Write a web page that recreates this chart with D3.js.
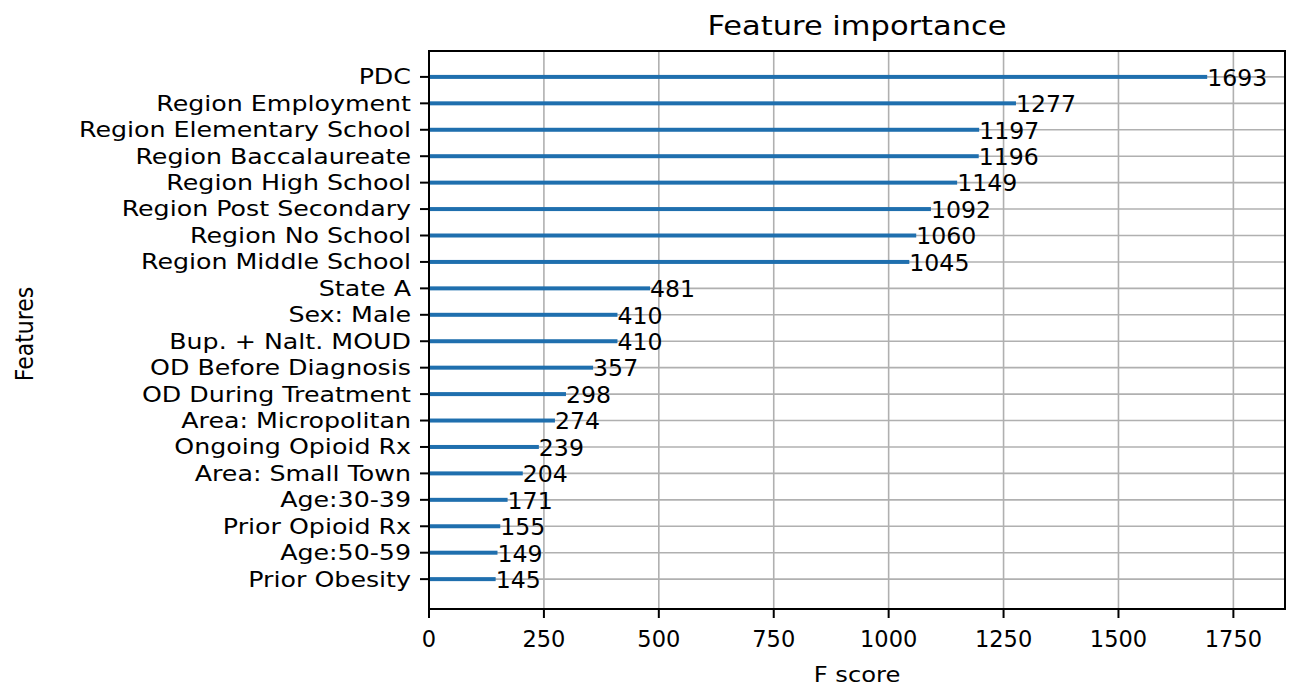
<!DOCTYPE html>
<html>
<head>
<meta charset="utf-8">
<script src="https://cdn.jsdelivr.net/npm/d3@7"></script>
<style>
  body { margin: 0; background: #fff; }
  text { font-family: "DejaVu Sans", sans-serif; fill: #000; }
</style>
</head>
<body>
<svg id="chart" width="1295" height="690"></svg>
<script>
// feature names, top to bottom
var features = ["PDC", "Region Employment", "Region Elementary School", "Region Baccalaureate",
  "Region High School", "Region Post Secondary", "Region No School", "Region Middle School",
  "State A", "Sex: Male", "Bup. + Nalt. MOUD", "OD Before Diagnosis", "OD During Treatment",
  "Area: Micropolitan", "Ongoing Opioid Rx", "Area: Small Town", "Age:30-39",
  "Prior Opioid Rx", "Age:50-59", "Prior Obesity"];
var scores = [1693, 1277, 1197, 1196, 1149, 1092, 1060, 1045, 481, 410, 410, 357, 298,
  274, 239, 204, 171, 155, 149, 145];
var xTicks = [0, 250, 500, 750, 1000, 1250, 1500, 1750];

// plot box (window.top is reserved, so use other names)
var pLeft = 429, pRight = 1285, pTop = 51, pBottom = 609;
var svg = d3.select("#chart");

var n = features.length;
// matplotlib style: bottom feature at position 0
var x = d3.scaleLinear().domain([0, d3.max(scores) * 1.1]).range([pLeft, pRight]);
var y = d3.scaleLinear().domain([-1.13, n - 0.02]).range([pBottom, pTop]);
function pos(i) { return y(n - 1 - i); }

// put a text at (px,py), widened a little (reference font is wider than DejaVu)
function at(px, py, s) { return "translate(" + px + "," + py + ") scale(" + s + ",1)"; }

// grid
svg.append("g").selectAll("line").data(xTicks).enter().append("line")
  .attr("x1", d => x(d)).attr("x2", d => x(d))
  .attr("y1", pTop).attr("y2", pBottom)
  .attr("stroke", "#b0b0b0").attr("stroke-width", 1.6);
svg.append("g").selectAll("line").data(features).enter().append("line")
  .attr("x1", pLeft).attr("x2", pRight)
  .attr("y1", (d, i) => pos(i)).attr("y2", (d, i) => pos(i))
  .attr("stroke", "#b0b0b0").attr("stroke-width", 1.6);

// bars
svg.append("g").selectAll("rect").data(scores).enter().append("rect")
  .attr("x", x(0))
  .attr("y", (d, i) => pos(i) - 2)
  .attr("width", d => x(d) - x(0))
  .attr("height", 4)
  .attr("fill", "#1f6fae");

// value labels
svg.append("g").selectAll("text").data(scores).enter().append("text")
  .attr("transform", (d, i) => at(x(d), pos(i) + 1, 1.05))
  .attr("dominant-baseline", "central")
  .style("font-size", "22.5px")
  .text(d => d);

// frame
svg.append("rect")
  .attr("x", pLeft).attr("y", pTop)
  .attr("width", pRight - pLeft).attr("height", pBottom - pTop)
  .attr("fill", "none").attr("stroke", "#000").attr("stroke-width", 2);

// x axis ticks
var xg = svg.append("g");
xg.selectAll("line").data(xTicks).enter().append("line")
  .attr("x1", d => x(d)).attr("x2", d => x(d))
  .attr("y1", pBottom).attr("y2", pBottom + 9)
  .attr("stroke", "#000").attr("stroke-width", 2);
xg.selectAll("text").data(xTicks).enter().append("text")
  .attr("transform", d => at(x(d), 639, 1.0))
  .attr("text-anchor", "middle").attr("dominant-baseline", "central")
  .style("font-size", "22.5px")
  .text(d => d);

// y axis ticks
var yg = svg.append("g");
yg.selectAll("line").data(features).enter().append("line")
  .attr("x1", pLeft - 9).attr("x2", pLeft)
  .attr("y1", (d, i) => pos(i)).attr("y2", (d, i) => pos(i))
  .attr("stroke", "#000").attr("stroke-width", 2);
yg.selectAll("text").data(features).enter().append("text")
  .attr("transform", (d, i) => at(pLeft - 18, pos(i), 1.15))
  .attr("text-anchor", "end").attr("dominant-baseline", "central")
  .style("font-size", "22px")
  .text(d => d);

// titles
svg.append("text")
  .attr("transform", at((pLeft + pRight) / 2, 26, 1.13))
  .attr("text-anchor", "middle").attr("dominant-baseline", "central")
  .style("font-size", "27px")
  .text("Feature importance");
svg.append("text")
  .attr("transform", at((pLeft + pRight) / 2, 674, 1.1))
  .attr("text-anchor", "middle").attr("dominant-baseline", "central")
  .style("font-size", "22px")
  .text("F score");
svg.append("text")
  .attr("transform", at(25, (pTop + pBottom) / 2 + 4, 1.1) + " rotate(-90)")
  .attr("text-anchor", "middle").attr("dominant-baseline", "central")
  .style("font-size", "22px")
  .text("Features");
</script>
</body>
</html>
